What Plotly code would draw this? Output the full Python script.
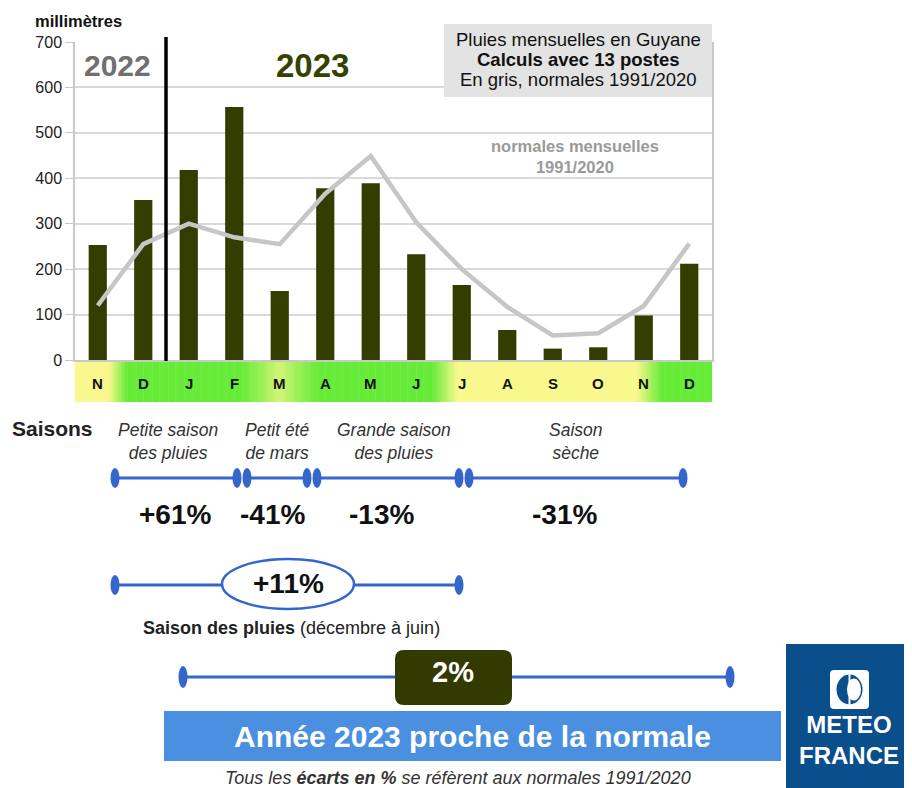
import plotly.graph_objects as go

W, H = 912, 788
# observed page placement of the figure in the viewer: x offset 8, y offset 17, height 771
OX, OY, EH = 8, 17, 771


def px(x):
    return (x - OX) / W


def py(y):
    return 1 - (y - OY) / EH


# ---------------- data ----------------
mois = ["N", "D", "J", "F", "M", "A", "M", "J", "J", "A", "S", "O", "N", "D"]
pluies_mm = [253, 352, 418, 557, 152, 378, 389, 233, 165, 66, 25, 28, 98, 212]
normales_mm = [120, 255, 300, 270, 255, 366, 449, 303, 200, 117, 54, 59, 119, 256]
y_ticks = [0, 100, 200, 300, 400, 500, 600, 700]

saisons_noms = ["Petite saison<br>des pluies", "Petit été<br>de mars",
                "Grande saison<br>des pluies", "Saison<br>sèche"]
saisons_ecarts = ["+61%", "-41%", "-13%", "-31%"]
ecart_saison_pluies = "+11%"
ecart_annee = "2%"

idx = list(range(len(mois)))

BLUE = "#3566cc"
OLIVE = "#333d00"

fig = go.Figure()
fig.add_bar(x=idx, y=pluies_mm, marker_color=OLIVE, width=0.4,
            marker_line_width=0, showlegend=False)
fig.add_scatter(x=idx, y=normales_mm, mode="lines",
                line=dict(color="#c6c6c6", width=4.5), showlegend=False)

shapes = []
ann = []


def text(x, y, t, size, color="#111", xa="center", ya="middle", family="Arial", xref="paper"):
    ann.append(dict(x=x if xref != "paper" else px(x), y=py(y), xref=xref, yref="paper",
                    text=t, showarrow=False, xanchor=xa, yanchor=ya, align="center",
                    font=dict(size=size, color=color, family=family)))


# ---------------- month band (gradient) ----------------
GREEN = (102, 236, 56)
YELLOW = (248, 248, 140)


def ramp(a, b, v):
    if v <= a:
        return 0.0
    if v >= b:
        return 1.0
    return (v - a) / (b - a)


def yellowness(t):
    y = 0.0
    if t < 0.6:
        y = 1 - ramp(0.25, 0.65, t)
    elif 7.3 < t < 12.5:
        y = min(ramp(7.35, 7.9, t), 1 - ramp(11.85, 12.4, t))
    d = abs(t - 4.0)
    if d < 0.9:
        y = max(y, 0.75 * (1 - d / 0.9) ** 1.2)
    return y


step = 0.05
n = int(round(14 / step))
for i in range(n):
    x0 = -0.5 + i * step
    f = yellowness(x0 + step / 2)
    c = tuple(int(GREEN[k] + (YELLOW[k] - GREEN[k]) * f) for k in range(3))
    shapes.append(dict(type="rect", xref="x", yref="paper", x0=x0, x1=x0 + step + 0.01,
                       y0=py(403), y1=py(362), line=dict(width=0),
                       fillcolor="rgb(%d,%d,%d)" % c, layer="below"))

for i, m in enumerate(mois):
    text(i, 384, "<b>%s</b>" % m, 15, color="#111",
         family="Liberation Sans Narrow, Arial Narrow, Arial", xref="x")

# year separator
shapes.append(dict(type="line", xref="x", yref="paper", x0=1.5, x1=1.5,
                   y0=py(362), y1=py(38), line=dict(color="black", width=3.5)))

# legend box
shapes.append(dict(type="rect", xref="paper", yref="paper", x0=px(444), x1=px(712),
                   y0=py(98), y1=py(25), fillcolor="#e3e3e3", line=dict(width=0),
                   layer="above"))
text(578, 40, "Pluies mensuelles en Guyane", 18.5)
text(578, 60, "<b>Calculs avec 13 postes</b>", 18.5)
text(578, 80, "En gris, normales 1991/2020", 18.5)

text(33, 22, "<b>millimètres</b>", 16.5, xa="left")
text(117, 67, "<b>2022</b>", 30, color="#707070")
text(312, 66, "<b>2023</b>", 33, color="#344200")
text(575, 157, "<b>normales mensuelles<br>1991/2020</b>", 16.5, color="#9a9a9a")

# ---------------- seasons ----------------
text(10, 429, "<b>Saisons</b>", 21, color="#222", xa="left")

season_lbl_x = [168, 277, 394, 576]
for xc, t in zip(season_lbl_x, saisons_noms):
    text(xc, 442, "<i>%s</i>" % t, 17.5, color="#333")


def oval(cx, cy, rx=4.5, ry=10, fill=BLUE, line=None):
    return dict(type="circle", xref="paper", yref="paper",
                x0=px(cx - rx), x1=px(cx + rx), y0=py(cy + ry), y1=py(cy - ry),
                fillcolor=fill, line=line or dict(width=0), layer="above")


def hline(x0, x1, y, w=3):
    return dict(type="line", xref="paper", yref="paper", x0=px(x0), x1=px(x1),
                y0=py(y), y1=py(y), line=dict(color=BLUE, width=w), layer="above")


segs = [(115, 237), (247, 307), (317, 459), (469, 683)]
for a, b in segs:
    shapes.append(hline(a, b, 479))
    shapes.append(oval(a, 479))
    shapes.append(oval(b, 479))

ecart_x = [175, 272, 381, 564]
for xc, t in zip(ecart_x, saisons_ecarts):
    text(xc, 515, "<b>%s</b>" % t, 28)

# rainy season line
shapes.append(hline(115, 459, 586))
shapes.append(oval(115, 586))
shapes.append(oval(459, 586))
shapes.append(oval(288, 585, rx=66, ry=25, fill="white",
                   line=dict(color=BLUE, width=2.5)))
text(288, 584, "<b>%s</b>" % ecart_saison_pluies, 28)
text(291, 629, "<b>Saison des pluies</b> (décembre à juin)", 18, color="#222")

# annual line
shapes.append(hline(183, 730, 678))
shapes.append(oval(183, 678, ry=11))
shapes.append(oval(730, 678, ry=11))


def rounded_rect(x0, y0, x1, y1, r):
    X = lambda v: "%.5f" % px(v)
    Y = lambda v: "%.5f" % py(v)
    p = "M %s,%s " % (X(x0 + r), Y(y0))
    p += "L %s,%s " % (X(x1 - r), Y(y0))
    p += "Q %s,%s %s,%s " % (X(x1), Y(y0), X(x1), Y(y0 + r))
    p += "L %s,%s " % (X(x1), Y(y1 - r))
    p += "Q %s,%s %s,%s " % (X(x1), Y(y1), X(x1 - r), Y(y1))
    p += "L %s,%s " % (X(x0 + r), Y(y1))
    p += "Q %s,%s %s,%s " % (X(x0), Y(y1), X(x0), Y(y1 - r))
    p += "L %s,%s " % (X(x0), Y(y0 + r))
    p += "Q %s,%s %s,%s Z" % (X(x0), Y(y0), X(x0 + r), Y(y0))
    return p


shapes.append(dict(type="path", xref="paper", yref="paper",
                   path=rounded_rect(395, 651, 512, 706, 9),
                   fillcolor="#333a00", line=dict(width=0), layer="above"))
text(453, 673, "<b>%s</b>" % ecart_annee, 29, color="white")

# banner
shapes.append(dict(type="rect", xref="paper", yref="paper", x0=px(164), x1=px(781),
                   y0=py(762), y1=py(712), fillcolor="#4a8fe0", line=dict(width=0),
                   layer="above"))
text(472, 737, "<b>Année 2023 proche de la normale</b>", 30, color="white")
text(458, 779, "<i>Tous les <b>écarts en %</b> se réfèrent aux normales 1991/2020</i>", 18, color="#333")

# logo
shapes.append(dict(type="rect", xref="paper", yref="paper", x0=px(786), x1=px(913),
                   y0=py(790), y1=py(645), fillcolor="#0a4f8c", line=dict(width=0),
                   layer="above"))
shapes.append(dict(type="path", xref="paper", yref="paper",
                   path=rounded_rect(830, 671, 869, 710, 4),
                   fillcolor="white", line=dict(width=0), layer="above"))
shapes.append(oval(849.5, 690.5, rx=13, ry=15, fill="#0a4f8c"))
shapes.append(oval(854, 690.5, rx=7, ry=11, fill="white"))
shapes.append(dict(type="line", xref="paper", yref="paper", x0=px(849.5), x1=px(849.5),
                   y0=py(706), y1=py(675), line=dict(color="white", width=2),
                   layer="above"))
text(849, 741, "<b>METEO<br>FRANCE</b>", 24, color="white")

fig.update_layout(
    width=W, height=H, margin=dict(l=0, r=0, t=0, b=0),
    paper_bgcolor="white", plot_bgcolor="white",
    showlegend=False, bargap=0.6,
    shapes=shapes, annotations=ann,
    xaxis=dict(domain=[px(75), px(712)], range=[-0.5, 13.5], showticklabels=False,
               showgrid=False, zeroline=False, showline=True, linecolor="#c8c8c8",
               linewidth=1.5, ticks="", fixedrange=True),
    yaxis=dict(domain=[py(361), py(43)], range=[0, 700], tickvals=y_ticks,
               showgrid=True, gridcolor="#d9d9d9", gridwidth=1.5, zeroline=False,
               showline=True, mirror=True, linecolor="#c8c8c8", linewidth=1.5,
               ticks="outside", ticklen=8, tickcolor="#c8c8c8",
               tickfont=dict(size=16, color="#222", family="Arial"), fixedrange=True),
)

fig.write_html("out.html")
